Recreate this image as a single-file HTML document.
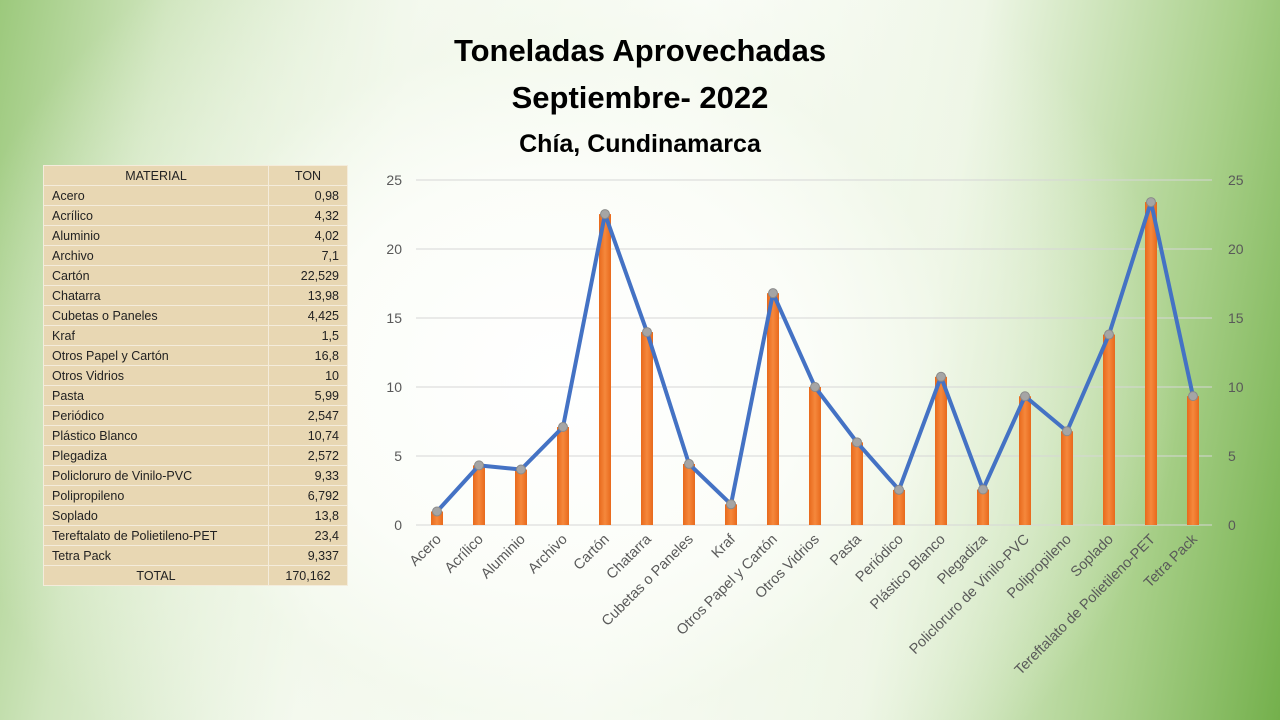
<!DOCTYPE html>
<html><head><meta charset="utf-8"><style>
body{margin:0;width:1280px;height:720px;overflow:hidden;font-family:"Liberation Sans",sans-serif;
background:radial-gradient(ellipse 620px 520px at 560px 380px,#ffffff 0%,#fbfdf8 40%,rgba(240,247,232,0.6) 65%,rgba(255,255,255,0) 100%),
linear-gradient(100deg,#9cc97c 0%,#cfe5bd 12%,#f6faf2 30%,#ffffff 50%,#eef6e6 70%,#a9d08a 88%,#74b04c 100%);}
h1{position:absolute;margin:0;left:0;width:1280px;text-align:center;font-weight:bold;color:#000;}
table{position:absolute;left:43px;top:165px;border-collapse:collapse;font-size:12.5px;color:#222;}
td{height:19px;padding:0 8px;border:1px solid #f4ecdc;background:#e8d7b3;}
td:nth-child(1){width:208px}td:nth-child(2){width:62px;text-align:right}
tr:first-child td,tr:last-child td{text-align:center}
</style></head><body>
<h1 style="top:33px;font-size:31px">Toneladas Aprovechadas</h1>
<h1 style="top:80px;font-size:31px">Septiembre- 2022</h1>
<h1 style="top:130px;font-size:25px">Chía, Cundinamarca</h1>
<table>
<tr><td>MATERIAL</td><td style="text-align:center">TON</td></tr>
<tr><td>Acero</td><td>0,98</td></tr><tr><td>Acrílico</td><td>4,32</td></tr><tr><td>Aluminio</td><td>4,02</td></tr><tr><td>Archivo</td><td>7,1</td></tr><tr><td>Cartón</td><td>22,529</td></tr><tr><td>Chatarra</td><td>13,98</td></tr><tr><td>Cubetas o Paneles</td><td>4,425</td></tr><tr><td>Kraf</td><td>1,5</td></tr><tr><td>Otros Papel y Cartón</td><td>16,8</td></tr><tr><td>Otros Vidrios</td><td>10</td></tr><tr><td>Pasta</td><td>5,99</td></tr><tr><td>Periódico</td><td>2,547</td></tr><tr><td>Plástico Blanco</td><td>10,74</td></tr><tr><td>Plegadiza</td><td>2,572</td></tr><tr><td>Policloruro de Vinilo-PVC</td><td>9,33</td></tr><tr><td>Polipropileno</td><td>6,792</td></tr><tr><td>Soplado</td><td>13,8</td></tr><tr><td>Tereftalato de Polietileno-PET</td><td>23,4</td></tr><tr><td>Tetra Pack</td><td>9,337</td></tr>
<tr><td>TOTAL</td><td style="text-align:center">170,162</td></tr>
</table>
<svg width="1280" height="720" style="position:absolute;left:0;top:0" font-family="Liberation Sans, sans-serif">
<defs><linearGradient id="b" x1="0" x2="1"><stop offset="0" stop-color="#e8691c"/><stop offset="0.5" stop-color="#f5883c"/><stop offset="1" stop-color="#e8691c"/></linearGradient></defs>
<g id="c"></g>
</svg>
<script>
const d=[["Acero",0.98],["Acrílico",4.32],["Aluminio",4.02],["Archivo",7.1],["Cartón",22.529],["Chatarra",13.98],["Cubetas o Paneles",4.425],["Kraf",1.5],["Otros Papel y Cartón",16.8],["Otros Vidrios",10],["Pasta",5.99],["Periódico",2.547],["Plástico Blanco",10.74],["Plegadiza",2.572],["Policloruro de Vinilo-PVC",9.33],["Polipropileno",6.792],["Soplado",13.8],["Tereftalato de Polietileno-PET",23.4],["Tetra Pack",9.337]];
let s="";const Y=v=>525-v*13.8,X=i=>437+i*42;
for(let k=0;k<=5;k++){const y=Y(k*5);s+=`<line x1="416" x2="1212" y1="${y}" y2="${y}" stroke="#d6d6d6"/>`;
s+=`<text x="402" y="${y+5}" font-size="14" fill="#595959" text-anchor="end">${k*5}</text><text x="1228" y="${y+5}" font-size="14" fill="#595959">${k*5}</text>`;}
let p="";
d.forEach((e,i)=>{const x=X(i),y=Y(e[1]);s+=`<rect x="${x-6}" y="${y}" width="12" height="${525-y}" fill="url(#b)"/>`;p+=(i?"L":"M")+x+" "+y;
s+=`<text transform="translate(${x+5},${540}) rotate(-45)" font-size="14.5" fill="#595959" text-anchor="end">${e[0]}</text>`;});
s+=`<path d="${p}" fill="none" stroke="#4472c4" stroke-width="4" stroke-linejoin="round"/>`;
d.forEach((e,i)=>{s+=`<circle cx="${X(i)}" cy="${Y(e[1])}" r="4.5" fill="#a5a5a5" stroke="#8a8a8a"/>`});
document.getElementById("c").innerHTML=s;
</script>
</body></html>
